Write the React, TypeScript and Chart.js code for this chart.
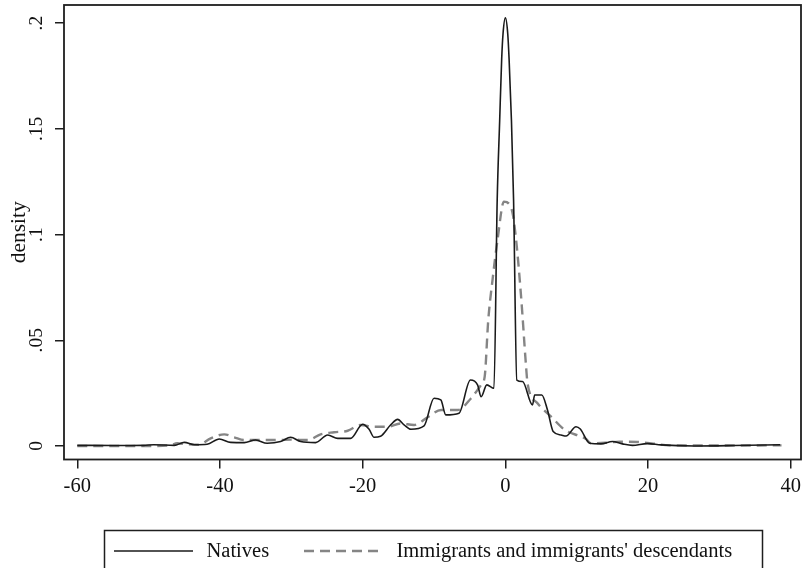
import React, { useEffect, useRef } from "react";
import { Chart, registerables } from "chart.js";

Chart.register(...registerables);

// ---- Data ----
const nativesX = [
  -60, -55, -50.7, -49.3, -46.4, -45.0, -43.6, -41.8, -40.1, -38.5, -36.6, -35.0, -33.4, -31.5, -30.1,
  -28.7, -26.6, -24.9, -23.5, -21.7, -20.0, -19.1, -18.4, -17.5, -16.1, -15.1, -14.2, -13.25, -11.4,
  -10.0, -9.05, -8.35, -6.5, -4.9, -3.9, -3.4, -2.6, -1.6, -1.15, -0.8, -0.52, -0.33, 0, 0.33, 0.52,
  0.85, 1.15, 1.6, 2.4, 3.8, 4.1, 5.1, 5.9, 6.7, 7.8, 8.5, 9.9, 10.5, 11.8, 13.4, 15.0, 16.4, 17.8,
  19.9, 21.8, 26.5, 32, 38.5,
];
const nativesY = [
  0.0003, 0.0002, 0.0003, 0.0006, 0.0003, 0.0017, 0.0006, 0.0008, 0.0033, 0.0017, 0.0016, 0.0028,
  0.0013, 0.0021, 0.0041, 0.0021, 0.0016, 0.0052, 0.0036, 0.0036, 0.0103, 0.0079, 0.0041, 0.0046,
  0.0099, 0.0126, 0.01, 0.0079, 0.0095, 0.0226, 0.0218, 0.0147, 0.0155, 0.0312, 0.0289, 0.0233,
  0.0289, 0.0273, 0.116, 0.154, 0.183, 0.195, 0.2025, 0.195, 0.183, 0.154, 0.116, 0.0312, 0.0305,
  0.0194, 0.0241, 0.0241, 0.017, 0.0068, 0.0052, 0.0047, 0.0091, 0.008, 0.0013, 0.001, 0.0021,
  0.001, 0.0003, 0.0011, 0.0005, 0.0, 0.0002, 0.0006,
];
const immigrantsX = [
  -60, -50, -47, -46.0, -44.5, -43, -41.3, -39.4, -38.0, -36.6, -34.3, -32, -30, -27.7, -25.9, -24.0,
  -22.1, -20.3, -18.4, -16.5, -14.7, -12.8, -10.9, -9.0, -6.7, -4.8, -3.4, -2.9, -2.4, -1.8, -1.1,
  -0.2, 0.9, 1.5, 2.2, 2.9, 3.1, 4.5, 6.4, 8.3, 10.6, 11.3, 12.0, 14, 16, 18.5, 20.5, 23, 30, 38.7,
];
const immigrantsY = [
  0.0, 0.0, 0.0003, 0.0013, 0.0008, 0.0006, 0.0036, 0.0055, 0.0041, 0.0028, 0.0028, 0.0028, 0.003,
  0.0028, 0.0055, 0.0065, 0.0072, 0.0099, 0.0091, 0.0091, 0.0106, 0.0099, 0.0136, 0.017, 0.017,
  0.0226, 0.0289, 0.0328, 0.0596, 0.0786, 0.0975, 0.1156, 0.1117, 0.0975, 0.0707, 0.0375, 0.0297,
  0.0202, 0.0139, 0.0077, 0.0044, 0.0033, 0.0013, 0.0015, 0.002, 0.0019, 0.0012, 0.0003, 0.0002,
  0.0003,
];
const xTickValues = [-60, -40, -20, 0, 20, 40];
const yTickValues = [0, 0.05, 0.1, 0.15, 0.2];
const yTickLabels = ["0", ".05", ".1", ".15", ".2"];
const seriesNames = ["Natives", "Immigrants and immigrants' descendants"];
const yAxisTitle = "density";

const SERIF = "'Liberation Serif', 'Times New Roman', serif";

const framePlugin = {
  id: "stataFrame",
  afterDraw(chart: any) {
    const { ctx, chartArea } = chart;
    const ys = chart.scales.y;
    ctx.save();
    // frame
    ctx.strokeStyle = "#1e1e1e";
    ctx.lineWidth = 1.8;
    ctx.strokeRect(chartArea.left, chartArea.top, chartArea.right - chartArea.left, chartArea.bottom - chartArea.top);
    // y tick labels, rotated (Stata style)
    ctx.fillStyle = "#111";
    ctx.font = `19.5px ${SERIF}`;
    ctx.textAlign = "center";
    ctx.textBaseline = "alphabetic";
    yTickValues.forEach((v, i) => {
      const py = ys.getPixelForValue(v);
      ctx.save();
      ctx.translate(chartArea.left - 22, py);
      ctx.rotate(-Math.PI / 2);
      ctx.fillText(yTickLabels[i], 0, 0);
      ctx.restore();
    });
    // legend
    const ds = chart.data.datasets;
    const lx = 104.5;
    const ly = 530.5;
    ctx.lineWidth = 1.5;
    ctx.strokeStyle = "#1e1e1e";
    ctx.setLineDash([]);
    ctx.strokeRect(lx, ly, 658, 60);
    const cy = 551;
    const samples = [
      { x0: 114, x1: 193, tx: 206.5 },
      { x0: 304, x1: 383, tx: 396.5 },
    ];
    samples.forEach((s, i) => {
      const d = ds[i];
      ctx.save();
      ctx.strokeStyle = d.borderColor;
      ctx.lineWidth = d.borderWidth;
      ctx.setLineDash(d.borderDash || []);
      ctx.beginPath();
      ctx.moveTo(s.x0, cy);
      ctx.lineTo(s.x1, cy);
      ctx.stroke();
      ctx.restore();
      ctx.fillStyle = "#111";
      ctx.font = `20.5px ${SERIF}`;
      ctx.textAlign = "left";
      ctx.textBaseline = "middle";
      ctx.fillText(d.label, s.tx, cy + 1);
    });
    ctx.restore();
  },
};

export default function App() {
  const canvasRef = useRef<HTMLCanvasElement | null>(null);

  useEffect(() => {
    const canvas = canvasRef.current;
    if (!canvas) return;
    const chart = new Chart(canvas, {
      type: "line",
      data: {
        datasets: [
          {
            label: seriesNames[0],
            data: nativesX.map((x, i) => ({ x, y: nativesY[i] })),
            borderColor: "#1a1a1a",
            borderWidth: 1.6,
            pointRadius: 0,
            cubicInterpolationMode: "monotone",
            fill: false,
          },
          {
            label: seriesNames[1],
            data: immigrantsX.map((x, i) => ({ x, y: immigrantsY[i] })),
            borderColor: "#858585",
            borderWidth: 2.4,
            borderDash: [10, 6],
            pointRadius: 0,
            cubicInterpolationMode: "monotone",
            fill: false,
          },
        ],
      },
      options: {
        responsive: false,
        animation: false,
        devicePixelRatio: 1,
        layout: { padding: { left: 0, top: 5, right: 2, bottom: 68.5 } },
        plugins: { legend: { display: false }, tooltip: { enabled: false } },
        scales: {
          x: {
            type: "linear",
            min: -61.86,
            max: 41.43,
            afterBuildTicks: (s: any) => {
              s.ticks = xTickValues.map((v) => ({ value: v }));
            },
            afterFit: (s: any) => {
              s.height = 40;
              s.paddingLeft = 0;
              s.paddingRight = 0;
            },
            grid: { display: true, drawOnChartArea: false, drawTicks: true, tickLength: 9, color: "#1e1e1e", lineWidth: 1.5 },
            border: { display: false },
            ticks: {
              color: "#111",
              font: { family: SERIF, size: 20.5 },
              padding: 6,
              maxRotation: 0,
              autoSkip: false,
              callback: (v: any) => String(v),
            },
          },
          y: {
            type: "linear",
            min: -0.0064,
            max: 0.2086,
            afterBuildTicks: (s: any) => {
              s.ticks = yTickValues.map((v) => ({ value: v }));
            },
            afterFit: (s: any) => {
              s.width = 64;
              s.paddingTop = 0;
              s.paddingBottom = 0;
            },
            grid: { display: true, drawOnChartArea: false, drawTicks: true, tickLength: 9, color: "#1e1e1e", lineWidth: 1.5 },
            border: { display: false },
            ticks: { display: false },
            title: {
              display: true,
              text: yAxisTitle,
              color: "#111",
              font: { family: SERIF, size: 21.5 },
              padding: { top: 6, bottom: 0 },
            },
          },
        },
      },
      plugins: [framePlugin],
    });
    return () => chart.destroy();
  }, []);

  return (
    <div style={{ position: "absolute", left: 0, top: 0, width: 803, height: 568, background: "#fff" }}>
      <canvas ref={canvasRef} width={803} height={568} style={{ display: "block" }} />
    </div>
  );
}
